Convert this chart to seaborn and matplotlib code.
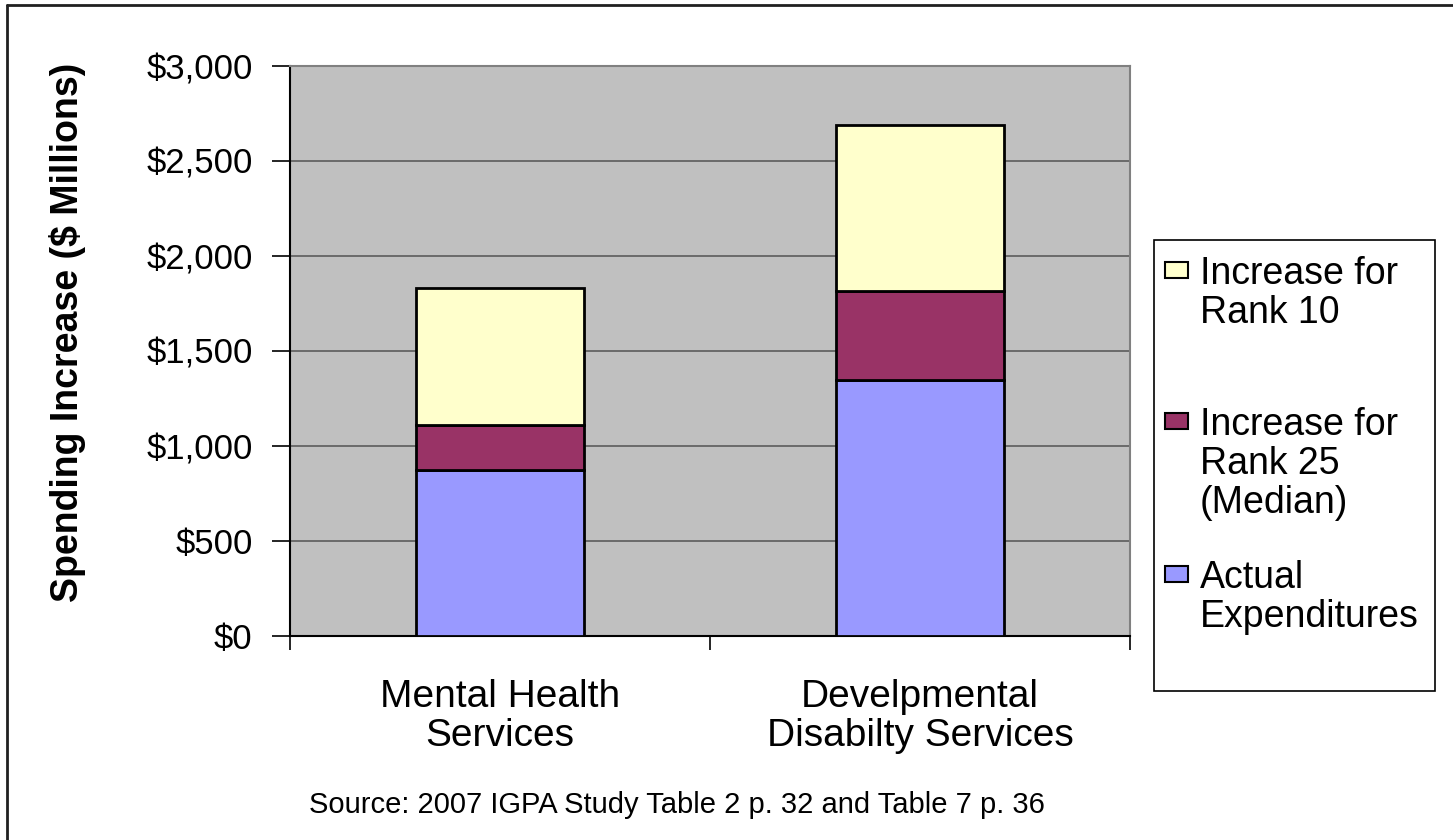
import matplotlib
matplotlib.use("Agg")
import matplotlib.pyplot as plt
from matplotlib.patches import Rectangle
from matplotlib.lines import Line2D
from matplotlib.ticker import FuncFormatter, FixedLocator
import seaborn as sns

categories = ["Mental Health\nServices", "Develpmental\nDisabilty Services"]
actual = [874, 1347]
rank25 = [235, 470]
rank10 = [721, 872]
series_names = ["Increase for\nRank 10", "Increase for\nRank 25\n(Median)", "Actual\nExpenditures"]
colors = {"actual": "#9999FF", "rank25": "#993366", "rank10": "#FFFFCC"}
source = "Source: 2007 IGPA Study Table 2 p. 32 and Table 7 p. 36"

sns.set_style("ticks")
plt.rcParams["font.family"] = ["Liberation Sans", "DejaVu Sans"]
for k in ["text.color", "axes.labelcolor", "xtick.color", "ytick.color"]:
    plt.rcParams[k] = "black"

fig = plt.figure(figsize=(14.53, 8.40), dpi=100)
ax = fig.add_axes([290 / 1453, 1 - 636 / 840, 840 / 1453, 570 / 840])
ax.set_facecolor("#C0C0C0")

bottom2 = [a + b for a, b in zip(actual, rank25)]
bar_kw = dict(width=0.4, edgecolor="black", linewidth=2, errorbar=None, ax=ax, zorder=3)
sns.barplot(x=categories, y=actual, color=colors["actual"], saturation=1, **bar_kw)
sns.barplot(x=categories, y=rank25, bottom=actual, color=colors["rank25"], saturation=1, **bar_kw)
sns.barplot(x=categories, y=rank10, bottom=bottom2, color=colors["rank10"], saturation=1, **bar_kw)

ax.set_ylim(0, 3000)
ax.set_xlim(-0.5, 1.5)
ax.set_yticks(range(0, 3001, 500))
ax.yaxis.set_major_formatter(FuncFormatter(lambda v, p: f"${v:,.0f}"))
ax.yaxis.grid(True, color="#5c5c5c", linewidth=1.2, zorder=1)
ax.set_axisbelow(True)
ax.tick_params(axis="y", labelsize=25, length=13, width=1.2, pad=14, color="black")
ax.tick_params(axis="x", which="major", labelsize=28, length=0, pad=31)
ax.xaxis.set_minor_locator(FixedLocator([-0.5, 0.5, 1.5]))
ax.tick_params(axis="x", which="minor", length=10, width=1.2, color="black")
for lab in ax.get_xticklabels():
    lab.set_linespacing(1.1)

for side in ["left", "bottom"]:
    ax.spines[side].set_color("black")
    ax.spines[side].set_linewidth(1.5)
for side in ["top", "right"]:
    ax.spines[side].set_visible(True)
    ax.spines[side].set_color("#808080")
    ax.spines[side].set_linewidth(1.5)

ax.set_xlabel("")
ax.set_ylabel("Spending Increase ($ Millions)", fontsize=27, fontweight="bold")
ax.yaxis.set_label_coords((86 - 290) / 840, (636 - 332) / 570)

# legend box drawn like the original
W, H = 1453, 840
fig.add_artist(Rectangle((1154 / W, 1 - 691 / H), (1435 - 1154) / W, (691 - 240) / H,
                         transform=fig.transFigure, facecolor="white", edgecolor="black", linewidth=1.2))
entries = [(series_names[0], colors["rank10"], 262),
           (series_names[1], colors["rank25"], 413),
           (series_names[2], colors["actual"], 566)]
for label, col, ytop in entries:
    fig.add_artist(Rectangle((1165 / W, 1 - (ytop + 16) / H), 23 / W, 16 / H,
                             transform=fig.transFigure, facecolor=col, edgecolor="black", linewidth=1.5))
    fig.text(1200 / W, 1 - (ytop - 6) / H, label, fontsize=27, ha="left", va="top", linespacing=1.1)

fig.text(677 / W, 1 - 813 / H, source, fontsize=21, ha="center", va="baseline")

# outer frame
fig.add_artist(Line2D([7 / W, 7 / W], [0, 1 - 5 / H], transform=fig.transFigure, color="#202020", linewidth=2))
fig.add_artist(Line2D([7 / W, 1], [1 - 5 / H, 1 - 5 / H], transform=fig.transFigure, color="#202020", linewidth=2))

fig.savefig("out.png", dpi=100)
